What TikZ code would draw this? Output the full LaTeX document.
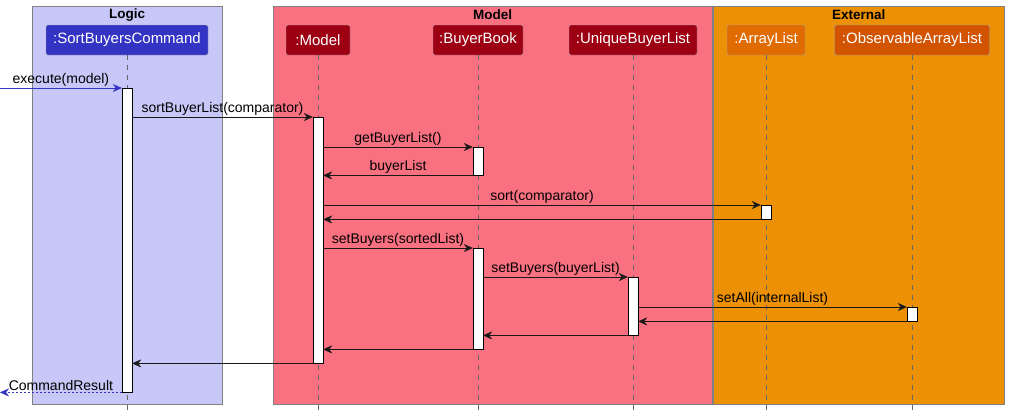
\documentclass[tikz,border=0pt]{standalone}
\usepackage{fontspec}
\setmainfont{Liberation Sans}
\usepackage{xcolor}
\usepackage{tikz}
\usetikzlibrary{arrows.meta}
\usetikzlibrary{positioning}
\definecolor{LogicBg}{RGB}{200,200,248}
\definecolor{ModelBg}{RGB}{249,113,129}
\definecolor{ExtBg}{RGB}{236,144,6}
\definecolor{CmdBlue}{RGB}{51,51,196}
\definecolor{ModelRed}{RGB}{157,0,18}
\definecolor{ListOrange}{RGB}{224,107,0}
\definecolor{ObsOrange}{RGB}{210,84,0}
\tikzset{
  MyGroup/.style={
    rectangle, anchor=north west, inner sep=0pt,
    draw=black!50,
  },
  MyTitle/.style={font=\fontsize{13.5}{15}\selectfont\bfseries, inner sep=0pt},
  MyPart/.style={
    rectangle, rounded corners=1.5pt,
    minimum height=30pt, inner sep=0pt,
    draw=black!35, text=white,
    font=\fontsize{15}{17}\selectfont,
  },
  MyAct/.style={
    rectangle, anchor=north, inner sep=0pt,
    minimum width=10pt, draw=black, fill=white,
  },
  MyLife/.style={draw=black!60, dash pattern=on 5pt off 5pt},
  MyMsg/.style={-{Stealth[length=9pt,width=8pt,inset=3pt]}, draw=black!90},
  MyLabel/.style={above, inner sep=1.5pt, font=\fontsize{14}{16}\selectfont},
}

\begin{document}
\begin{tikzpicture}[x=1pt, y=-1pt]
\useasboundingbox (0,0) rectangle (1009,416);
% groups
\node[MyGroup, fill=LogicBg, minimum width=190pt, minimum height=398pt] (gLogic) at (32,6) {};
\node[MyGroup, fill=ModelBg, minimum width=439pt, minimum height=398pt] (gModel) at (273,6) {};
\node[MyGroup, fill=ExtBg, minimum width=291pt, minimum height=398pt] (gExt) at (713,6) {};
\node[MyTitle] (tLogic) at ([yshift=-9pt]gLogic.north) {Logic};
\node[MyTitle] (tModel) at ([yshift=-9pt]gModel.north) {Model};
\node[MyTitle] (tExt) at ([yshift=-9pt]gExt.north) {External};
% participants
\node[MyPart, fill=CmdBlue, minimum width=162pt] (pCmd) at (127,40) {:SortBuyersCommand};
\node[MyPart, fill=ModelRed, minimum width=64pt] (pModel) at (318,40) {:Model};
\node[MyPart, fill=ModelRed, minimum width=90pt] (pBook) at (478,40) {:BuyerBook};
\node[MyPart, fill=ModelRed, minimum width=128pt] (pUniq) at (633,40) {:UniqueBuyerList};
\node[MyPart, fill=ListOrange, minimum width=78pt] (pList) at (766,40) {:ArrayList};
\node[MyPart, fill=ObsOrange, minimum width=155pt] (pObs) at (912,40) {:ObservableArrayList};
\coordinate (bottom) at (0,411);
\coordinate (edge) at (0,0);
\foreach \p in {pCmd,pModel,pBook,pUniq,pList,pObs}
  \draw[MyLife] (\p.south) -- (\p.south |- bottom);
% activations
\node[MyAct, minimum height=304pt] (aCmd) at (127,88) {};
\node[MyAct, minimum height=246pt] (aModel) at (318,117) {};
\node[MyAct, minimum height=28pt] (aBook1) at (478,147) {};
\node[MyAct, minimum height=14pt] (aList) at (766,205) {};
\node[MyAct, minimum height=101pt] (aBook2) at (478,248) {};
\node[MyAct, minimum height=58pt] (aUniq) at (633,277) {};
\node[MyAct, minimum height=14pt] (aObs) at (912,307) {};
% messages
\draw[MyMsg, draw=CmdBlue] (edge |- aCmd.north) -- node[MyLabel] {execute(model)} (aCmd.north west);
\draw[MyMsg] (aCmd.east |- aModel.north) -- node[MyLabel] {sortBuyerList(comparator)} (aModel.north west);
\draw[MyMsg] (aModel.east |- aBook1.north) -- node[MyLabel] {getBuyerList()} (aBook1.north west);
\draw[MyMsg] (aBook1.south west) -- node[MyLabel] {buyerList} (aModel.east |- aBook1.south);
\draw[MyMsg] (aModel.east |- aList.north) -- node[MyLabel] {sort(comparator)} (aList.north west);
\draw[MyMsg] (aList.south west) -- (aModel.east |- aList.south);
\draw[MyMsg] (aModel.east |- aBook2.north) -- node[MyLabel] {setBuyers(sortedList)} (aBook2.north west);
\draw[MyMsg] (aBook2.east |- aUniq.north) -- node[MyLabel] {setBuyers(buyerList)} (aUniq.north west);
\draw[MyMsg] (aUniq.east |- aObs.north) -- node[MyLabel] {setAll(internalList)} (aObs.north west);
\draw[MyMsg] (aObs.south west) -- (aUniq.east |- aObs.south);
\draw[MyMsg] (aUniq.south west) -- (aBook2.east |- aUniq.south);
\draw[MyMsg] (aBook2.south west) -- (aModel.east |- aBook2.south);
\draw[MyMsg] (aModel.south west) -- (aCmd.east |- aModel.south);
\draw[MyMsg, draw=CmdBlue, dash pattern=on 2pt off 2pt] (aCmd.south west) -- node[MyLabel] {CommandResult} (edge |- aCmd.south);
\end{tikzpicture}
\end{document}
